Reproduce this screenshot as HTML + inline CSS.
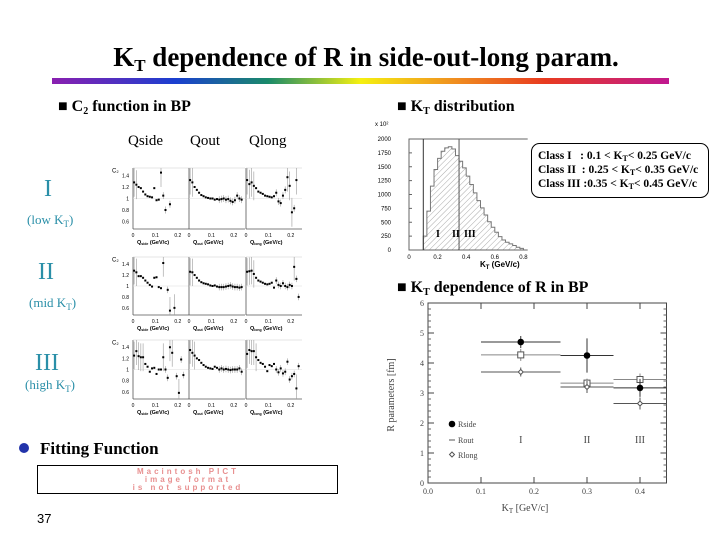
<!DOCTYPE html>
<html><head><meta charset="utf-8"><style>
html,body{margin:0;padding:0;background:#fff;}
svg{display:block;font-family:"Liberation Serif",serif;}
</style></head><body>
<svg id="s" width="720" height="540" viewBox="0 0 720 540" xmlns="http://www.w3.org/2000/svg">
<defs>
<linearGradient id="rb" x1="0" x2="1" y1="0" y2="0">
<stop offset="0" stop-color="#8a1fb0"/><stop offset="0.2" stop-color="#1a3fd0"/><stop offset="0.35" stop-color="#1a8a6a"/><stop offset="0.5" stop-color="#f5f010"/><stop offset="0.65" stop-color="#f09020"/><stop offset="0.8" stop-color="#e83a20"/><stop offset="1" stop-color="#c01890"/>
</linearGradient>
<pattern id="hatch" width="4" height="4" patternUnits="userSpaceOnUse" patternTransform="rotate(45)"><line x1="0" y1="0" x2="0" y2="4" stroke="#aaa" stroke-width="1"/></pattern>
</defs>
<text x="366" y="66" text-anchor="middle" font-size="27" font-weight="bold">K<tspan font-size="17" dy="5">T</tspan><tspan dy="-5"> dependence of R in side-out-long param.</tspan></text>
<rect x="52" y="78" width="617" height="6" fill="url(#rb)"/>
<text x="58" y="111" font-size="16" font-weight="bold">■ C<tspan font-size="10" dy="3">2</tspan><tspan dy="-3"> function in BP</tspan></text>
<text x="397" y="111" font-size="16" font-weight="bold">■ K<tspan font-size="10" dy="3">T</tspan><tspan dy="-3"> distribution</tspan></text>
<text x="397" y="292" font-size="16" font-weight="bold">■ K<tspan font-size="10" dy="3">T</tspan><tspan dy="-3"> dependence of R in BP</tspan></text>
<text x="128" y="145" font-size="15">Qside</text>
<text x="190" y="145" font-size="15">Qout</text>
<text x="249" y="145" font-size="15">Qlong</text>
<g fill="#2a8fa8">
<text x="44" y="196" font-size="24">I</text>
<text x="27" y="224" font-size="13">(low K<tspan font-size="9" dy="3">T</tspan><tspan dy="-3">)</tspan></text>
<text x="38" y="279" font-size="24">II</text>
<text x="29" y="307" font-size="13">(mid K<tspan font-size="9" dy="3">T</tspan><tspan dy="-3">)</tspan></text>
<text x="35" y="370" font-size="24">III</text>
<text x="25" y="389" font-size="13">(high K<tspan font-size="9" dy="3">T</tspan><tspan dy="-3">)</tspan></text>
</g>
<circle cx="24" cy="448" r="5" fill="#2233aa"/>
<text x="40" y="454" font-size="17" font-weight="bold">Fitting Function</text>
<rect x="37.5" y="465.5" width="300" height="28" fill="#fff" stroke="#000"/>
<g fill="#e89090" font-family="Liberation Sans,sans-serif" font-size="8" font-weight="bold" text-anchor="middle">
<text x="188" y="474" letter-spacing="3">Macintosh PICT</text>
<text x="188" y="482" letter-spacing="3">image format</text>
<text x="188" y="490" letter-spacing="3">is not supported</text>
</g>
<text x="37" y="523" font-size="13" font-family="Liberation Sans,sans-serif">37</text>
<rect x="531.5" y="143.5" width="177" height="54" rx="8" fill="#fff" stroke="#000"/>
<g font-size="11.5" font-weight="bold">
<text x="538" y="159">Class I &#160; : 0.1 &lt; K<tspan font-size="8" dy="2">T</tspan><tspan dy="-2">&lt; 0.25 GeV/c</tspan></text>
<text x="538" y="173">Class II &#160;: 0.25 &lt; K<tspan font-size="8" dy="2">T</tspan><tspan dy="-2">&lt; 0.35 GeV/c</tspan></text>
<text x="538" y="187">Class III :0.35 &lt; K<tspan font-size="8" dy="2">T</tspan><tspan dy="-2">&lt; 0.45 GeV/c</tspan></text>
</g>
<g id="hist"></g>
<g id="rplot"></g>
<g id="c2"></g>
</svg>
<script>
const NS="http://www.w3.org/2000/svg";
function mk(p,t,a){const e=document.createElementNS(NS,t);for(const k in a)e.setAttribute(k,a[k]);p.appendChild(e);return e;}
function tx(p,x,y,s,a){const e=mk(p,'text',Object.assign({x:x,y:y},a||{}));e.textContent=s;return e;}

/* ---- KT histogram ---- */
const histBinStart=[0.1,0.125,0.15,0.175,0.2,0.225,0.25,0.275,0.3,0.325,0.35,0.375,0.4,0.425,0.45,0.475,0.5,0.525,0.55,0.575,0.6,0.625,0.65,0.675,0.7,0.725,0.75,0.775];
const histCounts=[250,700,1150,1450,1650,1780,1840,1860,1820,1700,1600,1480,1330,1180,1030,890,760,630,510,410,320,240,180,140,110,80,50,30];
const histBinW=0.025;
const histYTicks=[0,250,500,750,1000,1250,1500,1750,2000];
const histXTicks=[0,0.2,0.4,0.6,0.8];
const hx=v=>409+v*143, hy=v=>250-v*(111/2000);
(function(){
 const g=document.getElementById('hist');
 
 
 let d='M'+hx(histBinStart[0])+','+hy(0);
 histCounts.forEach((c,i)=>{d+=' L'+hx(histBinStart[i])+','+hy(c)+' L'+hx(histBinStart[i]+histBinW)+','+hy(c);});
 d+=' L'+hx(histBinStart[histBinStart.length-1]+histBinW)+','+hy(0)+' Z';
 const p=mk(g,'path',{d:d,fill:'url(#hatch)',stroke:'#777','stroke-width':1});
 
 
 mk(g,'polyline',{points:`${hx(0.83)},${hy(2000)} ${hx(0)},${hy(2000)} ${hx(0)},${hy(0)} ${hx(0.83)},${hy(0)}`,fill:'none',stroke:'#666'});
 mk(g,'line',{x1:hx(0.1),y1:hy(2000),x2:hx(0.1),y2:hy(0),stroke:'#333'});
 mk(g,'line',{x1:hx(0.35),y1:hy(2000),x2:hx(0.35),y2:hy(0),stroke:'#555'});
 histYTicks.forEach(t=>{tx(g,hx(0)-18,hy(t)+2,String(t),{'font-size':6,'font-family':'Liberation Sans,sans-serif','text-anchor':'end'});mk(g,'line',{x1:hx(0),x2:hx(0)+3,y1:hy(t),y2:hy(t),stroke:'#666'});});
 histXTicks.forEach(t=>{tx(g,hx(t),hy(0)+9,String(t),{'font-size':6,'font-family':'Liberation Sans,sans-serif','text-anchor':'middle'});});
 tx(g,375,126,'x 10²',{'font-size':6,'font-family':'Liberation Sans,sans-serif'});
 tx(g,480,267,'K',{'font-size':8,'font-family':'Liberation Sans,sans-serif','font-weight':'bold'}).innerHTML='K<tspan font-size="6" dy="2">T</tspan><tspan dy="-2"> (GeV/c)</tspan>';
 tx(g,436,237,'I',{'font-size':10,'font-weight':'bold'});
 tx(g,452,237,'II',{'font-size':10,'font-weight':'bold'});
 tx(g,464,237,'III',{'font-size':10,'font-weight':'bold'});
})();

/* ---- R vs KT plot ---- */
const rKt=[0.175,0.3,0.4];
const rXLo=[0.1,0.25,0.35];
const rXHi=[0.25,0.35,0.45];
const rSide=[4.7,4.25,3.17];
const rSideErr=[0.2,0.57,0.3];
const rOut=[4.27,3.33,3.45];
const rOutErr=[0.2,0.15,0.2];
const rLong=[3.7,3.2,2.65];
const rLongErr=[0.15,0.2,0.2];
const rXTicks=[0,0.1,0.2,0.3,0.4];
const rXLabels=['0.0','0.1','0.2','0.3','0.4'];
const rYTicks=[0,1,2,3,4,5,6];
const rx=v=>428+v*530, ry=v=>483-v*30;
(function(){
 const g=document.getElementById('rplot');
 
 
 mk(g,'rect',{x:rx(0),y:ry(6),width:rx(0.45)-rx(0),height:ry(0)-ry(6),fill:'none',stroke:'#444'});
 rYTicks.forEach(t=>{mk(g,'line',{x1:rx(0),x2:rx(0)+6,y1:ry(t),y2:ry(t),stroke:'#444'});mk(g,'line',{x1:rx(0.45),x2:rx(0.45)-6,y1:ry(t),y2:ry(t),stroke:'#444'});
  if(t<6){for(let k=1;k<5;k++){const yy=ry(t+k*0.2);mk(g,'line',{x1:rx(0),x2:rx(0)+3,y1:yy,y2:yy,stroke:'#666'});mk(g,'line',{x1:rx(0.45),x2:rx(0.45)-3,y1:yy,y2:yy,stroke:'#666'});}}
  tx(g,rx(0)-4,ry(t)+3,String(t),{'font-size':8,'text-anchor':'end',fill:'#444'});});
 rXTicks.forEach((t,i)=>{mk(g,'line',{x1:rx(t),x2:rx(t),y1:ry(0),y2:ry(0)-6,stroke:'#444'});mk(g,'line',{x1:rx(t),x2:rx(t),y1:ry(6),y2:ry(6)+6,stroke:'#444'});
  tx(g,rx(t),ry(0)+11,rXLabels[i],{'font-size':8,'text-anchor':'middle',fill:'#444'});});
 const xl=tx(g,525,511,'',{'font-size':10,'text-anchor':'middle',fill:'#444'});
 xl.innerHTML='K<tspan font-size="7" dy="2">T</tspan><tspan dy="-2"> [GeV/c]</tspan>';
 tx(g,0,0,'R  parameters   [fm]',{'font-size':10,'text-anchor':'middle',fill:'#444',transform:'translate(394,395) rotate(-90)'});
 function series(vals,errs,kind,col){
  vals.forEach((v,i)=>{
   mk(g,'line',{x1:rx(rXLo[i]),x2:rx(rXHi[i]),y1:ry(v),y2:ry(v),stroke:col});
   mk(g,'line',{x1:rx(rKt[i]),x2:rx(rKt[i]),y1:ry(v-errs[i]),y2:ry(v+errs[i]),stroke:col});
   let m;
   if(kind==='side')m=mk(g,'circle',{cx:rx(rKt[i]),cy:ry(v),r:3.3,fill:'#000'});
   else if(kind==='out')m=mk(g,'rect',{x:rx(rKt[i])-3,y:ry(v)-3,width:6,height:6,fill:'#fff',stroke:'#555'});
   else m=mk(g,'path',{d:`M${rx(rKt[i])},${ry(v)-2.5} l2.5,2.5 l-2.5,2.5 l-2.5,-2.5 z`,fill:'#fff',stroke:'#555'});
   
   
  });
 }
 series(rOut,rOutErr,'out','#888');
 series(rLong,rLongErr,'long','#555');
 series(rSide,rSideErr,'side','#333');
 mk(g,'circle',{cx:452,cy:424,r:3.3,fill:'#000'});
 tx(g,458,427,'Rside',{'font-size':8,fill:'#444'});
 mk(g,'line',{x1:449,x2:455,y1:440,y2:440,stroke:'#555'});
 tx(g,458,443,'Rout',{'font-size':8,fill:'#444'});
 mk(g,'path',{d:'M452,452 l2.5,2.5 l-2.5,2.5 l-2.5,-2.5 z',fill:'#fff',stroke:'#555'});
 tx(g,458,458,'Rlong',{'font-size':8,fill:'#444'});
 tx(g,rx(0.175),443,'I',{'font-size':10,'text-anchor':'middle',fill:'#444'});
 tx(g,rx(0.3),443,'II',{'font-size':10,'text-anchor':'middle',fill:'#444'});
 tx(g,rx(0.4),443,'III',{'font-size':10,'text-anchor':'middle',fill:'#444'});
})();

/* ---- C2 small panels ---- */
const c2Q=[0.005,0.015,0.025,0.035,0.045,0.055,0.065,0.075,0.085,0.095,0.105,0.115,0.125,0.135,0.145,0.155,0.165,0.175,0.185,0.195,0.205,0.215,0.225,0.235];
const c2Row1Side=[1.28,1.24,1.2,1.18,1.12,1.07,1.04,1.03,1.02,1.18,0.97,0.98,1.45,1.05,0.8,null,0.9,null,null,null,null,null,null,null];
const c2Row1Out=[1.32,1.28,1.2,1.15,1.1,1.06,1.04,1.02,1.01,1.0,1.0,0.98,0.99,0.98,0.99,1.0,0.98,0.99,0.96,0.94,0.97,1.05,1.0,0.98];
const c2Row1Long=[1.32,1.25,1.28,1.22,1.18,1.12,1.1,1.08,1.05,1.04,1.03,1.02,1.04,1.1,0.95,0.92,1.05,1.15,1.37,1.22,0.76,0.83,1.32,null];
const c2Row2Side=[1.28,1.25,1.18,1.18,1.15,1.1,1.06,1.02,0.99,1.15,1.16,0.98,0.96,1.42,null,0.93,0.55,null,0.6,null,null,null,null,null];
const c2Row2Out=[1.26,1.25,1.2,1.15,1.1,1.07,1.05,1.04,1.03,1.01,1.0,1.01,0.99,0.98,0.98,0.98,0.99,1.0,1.01,0.99,0.98,0.98,0.97,0.98];
const c2Row2Long=[1.26,1.27,1.28,1.22,1.15,1.1,1.08,1.06,1.04,1.03,1.04,1.06,0.97,1.1,1.02,1.0,1.05,1.0,0.98,1.02,1.0,1.35,1.13,0.8];
const c2Row3Side=[1.25,1.33,1.24,1.22,1.22,1.1,1.05,0.96,1.02,1.03,0.92,1.0,1.0,1.22,1.0,0.85,1.4,1.3,null,0.88,0.58,1.18,0.9,null];
const c2Row3Out=[1.35,1.3,1.25,1.2,1.17,1.12,1.08,1.05,1.03,1.02,1.01,1.05,1.03,1.0,1.02,1.0,1.01,1.0,0.99,1.0,1.0,1.0,1.02,0.96];
const c2Row3Long=[1.28,1.35,1.33,1.33,1.22,1.17,1.12,1.1,1.05,0.97,1.08,1.06,1.1,1.0,0.95,1.02,0.93,0.96,1.14,0.82,0.88,0.92,0.66,1.06];
const c2YTicks=[0.6,0.8,1,1.2,1.4];
const c2YLabels=['0.6','0.8','1','1.2','1.4'];
const c2Rows=[
 {top:168,bot:229,data:[c2Row1Side,c2Row1Out,c2Row1Long]},
 {top:257,bot:315,data:[c2Row2Side,c2Row2Out,c2Row2Long]},
 {top:340,bot:399,data:[c2Row3Side,c2Row3Out,c2Row3Long]}
];
const c2PanelX=[133,189,246];
const c2PanelW=56;
const c2QMax=0.25;
(function(){
 const g=document.getElementById('c2');
 
 
 const titles=[['Q','side'],['Q','out'],['Q','long']];
 c2Rows.forEach((row,ri)=>{
  const yv=v=>row.bot-(v-0.47)/(1.06)*(row.bot-row.top);
  c2YTicks.forEach((t,k)=>tx(g,129,yv(t)+2,c2YLabels[k],{'font-size':5,'font-family':'Liberation Sans,sans-serif','text-anchor':'end'}));
  tx(g,112,yv(1.45),'C₂',{'font-size':6,'font-family':'Liberation Sans,sans-serif'});
  row.data.forEach((vals,pi)=>{
   const x0=c2PanelX[pi];
   const qx=q=>x0+q/c2QMax*c2PanelW;
   mk(g,'line',{x1:x0,x2:x0+c2PanelW,y1:row.bot,y2:row.bot,stroke:'#555','stroke-width':0.8});
   mk(g,'line',{x1:x0,x2:x0,y1:row.top,y2:row.bot,stroke:'#555','stroke-width':0.8});
   mk(g,'line',{x1:x0,x2:x0+c2PanelW,y1:row.top,y2:row.top,stroke:'#ccc','stroke-width':0.6});
   mk(g,'line',{x1:x0,x2:x0+c2PanelW,y1:yv(1),y2:yv(1),stroke:'#ddd','stroke-width':0.6});
   [0,0.1,0.2].forEach(t=>tx(g,qx(t),row.bot+8,String(t),{'font-size':5,'font-family':'Liberation Sans,sans-serif','text-anchor':'middle'}));
   const tt=tx(g,x0+4,row.bot+15,'',{'font-size':5.5,'font-family':'Liberation Sans,sans-serif','font-weight':'bold'});
   tt.innerHTML=titles[pi][0]+'<tspan font-size="3.5" dy="1">'+titles[pi][1]+'</tspan><tspan dy="-1"> (GeV/c)</tspan>';
   vals.forEach((v,i)=>{
    if(v===null)return;
    const err=Math.abs(v-1)>0.2?0.25:(i>12?0.06:0.02);
    if(err>0.03)mk(g,'line',{x1:qx(c2Q[i]),x2:qx(c2Q[i]),y1:Math.max(row.top,yv(v+err)),y2:Math.min(row.bot,yv(v-err)),stroke:'#999','stroke-width':0.6});
    const c=mk(g,'rect',{x:qx(c2Q[i])-1,y:yv(v)-1,width:2,height:2,fill:'#000'});
    
    
   });
  });
 });
})();
</script>
</body></html>
